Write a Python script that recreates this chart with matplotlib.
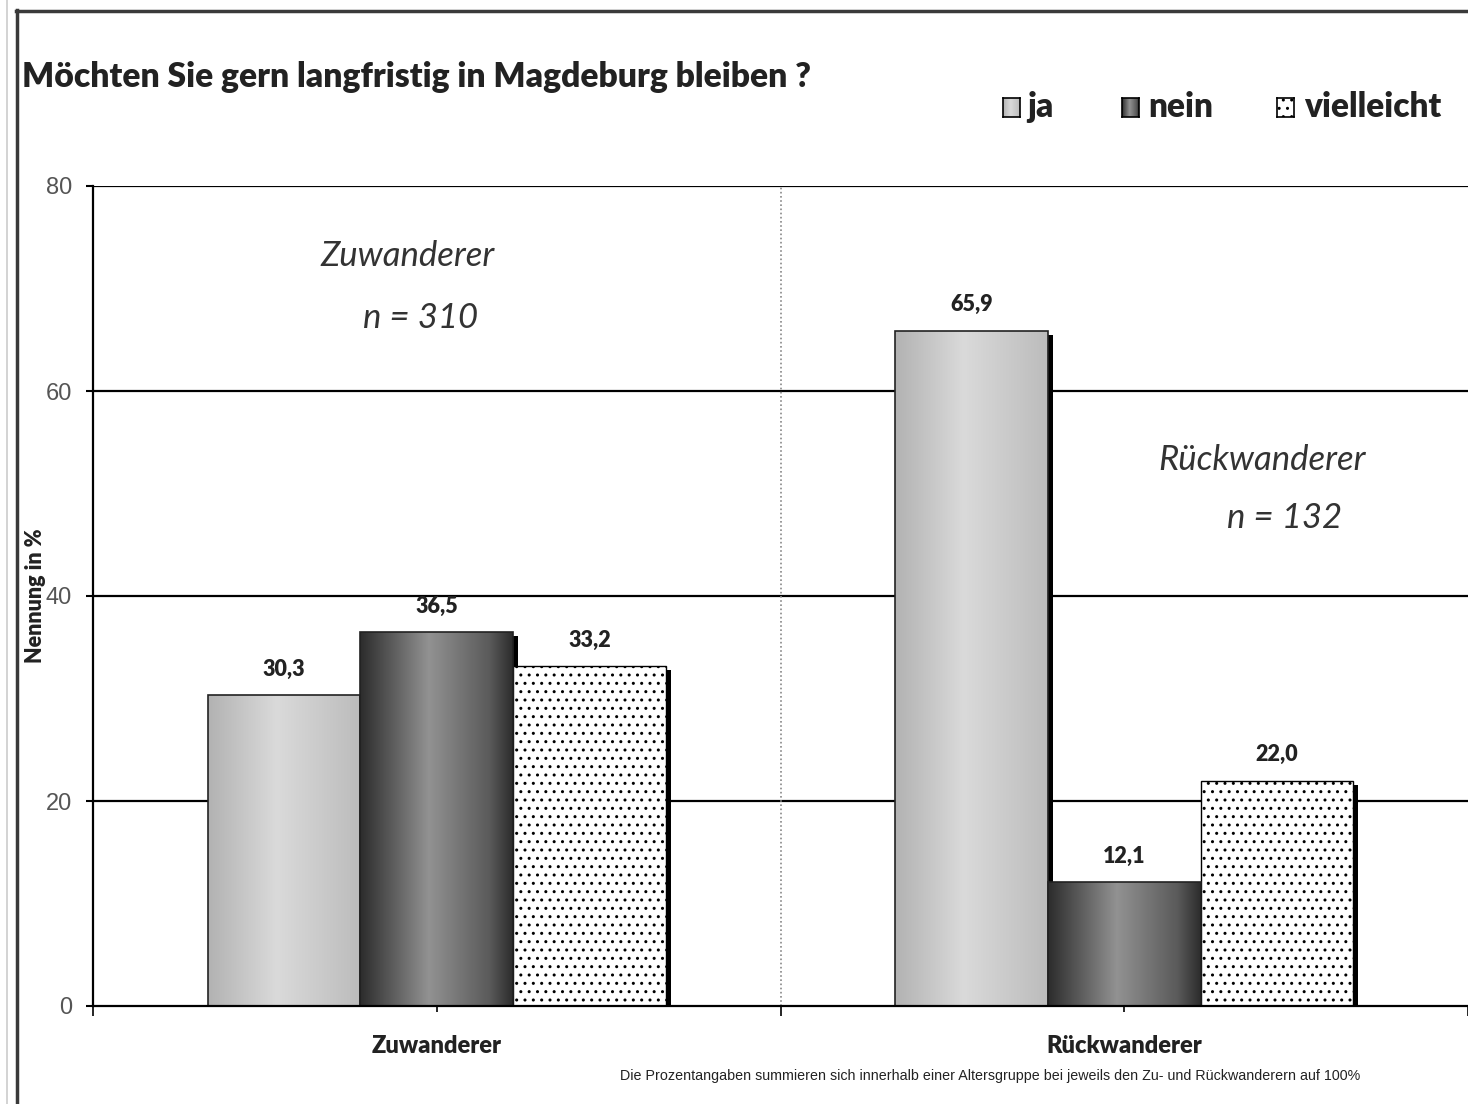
import numpy as np
import matplotlib
matplotlib.use("Agg")
import matplotlib.pyplot as plt
from matplotlib.colors import LinearSegmentedColormap
from matplotlib.patches import Rectangle
from matplotlib.lines import Line2D

# ---------------- data ----------------
title = "Möchten Sie gern langfristig in Magdeburg bleiben ?"
groups = ["Zuwanderer", "Rückwanderer"]
series_names = ["ja", "nein", "vielleicht"]
ja = [30.3, 65.9]
nein = [36.5, 12.1]
vielleicht = [33.2, 22.0]
y_ticks = [0, 20, 40, 60, 80]
group_notes = [("Zuwanderer", "n = 310"), ("Rückwanderer", "n = 132")]
ylabel = "Nennung in %"
footnote = ("Die Prozentangaben summieren sich innerhalb einer Altersgruppe "
            "bei jeweils den Zu- und Rückwanderern auf 100%")

plt.rcParams['hatch.linewidth'] = 1.0
plt.rcParams['hatch.color'] = 'black'

BOLD = ['Lato', 'DejaVu Sans']
NARROW = ['Liberation Sans Narrow', 'Liberation Sans', 'DejaVu Sans']

W, H = 1468, 1104
fig = plt.figure(figsize=(W / 100, H / 100), dpi=100)
fig.patch.set_facecolor('white')

def fx(px):
    return px / W

def fy(py):
    return 1 - py / H

ax = fig.add_axes([fx(93), fy(1006), 1 - fx(93), fy(186) - fy(1006)])
ax.set_xlim(0, 2)
ax.set_ylim(0, 80)

cmap_ja = LinearSegmentedColormap.from_list(
    "ja", [(0, "#b2b2b2"), (0.45, "#dadada"), (1, "#bcbcbc")])
cmap_nein = LinearSegmentedColormap.from_list(
    "nein", [(0, "#2c2c2c"), (0.45, "#929292"), (0.85, "#5a5a5a"), (1, "#2c2c2c")])

width = 1 / 4.5
centers = np.array([0.5, 1.5])
offsets = [-width, 0, width]
series = [ja, nein, vielleicht]

# shadows (offset by a few pixels right/down)
sx = 5 / 687
sy = 0.45
for k, vals in enumerate(series):
    ax.bar(centers + offsets[k] + sx, vals, width, bottom=-sy,
           color='black', linewidth=0, zorder=2)

gradient = np.linspace(0, 1, 256).reshape(1, -1)
containers = []
for k, vals in enumerate(series):
    if k == 2:
        bc = ax.bar(centers + offsets[k], vals, width, facecolor='white',
                    edgecolor='black', hatch='..', linewidth=1.0, zorder=3)
    else:
        bc = ax.bar(centers + offsets[k], vals, width, facecolor='none',
                    edgecolor='#222222', linewidth=1.2, zorder=4)
        cm = cmap_ja if k == 0 else cmap_nein
        for p in bc:
            x0, w0, h0 = p.get_x(), p.get_width(), p.get_height()
            im = ax.imshow(gradient, cmap=cm, aspect='auto',
                           extent=[x0, x0 + w0, 0, h0], zorder=3,
                           interpolation='bilinear')
            im.set_clip_path(p)
    containers.append(bc)
ax.set_xlim(0, 2)
ax.set_ylim(0, 80)

for bc, vals in zip(containers, series):
    ax.bar_label(bc, labels=[f"{v:.1f}".replace('.', ',') for v in vals],
                 padding=11, fontsize=15.5, fontweight='heavy', family=BOLD,
                 color='#222222', zorder=6)

# grid lines
for t in y_ticks[1:]:
    ax.axhline(t, color='black', lw=1.6, zorder=1)
ax.axvline(1, color='#888888', lw=1.2, ls=(0, (1, 1.5)), zorder=1)

for s in ['top', 'right']:
    ax.spines[s].set_visible(False)
ax.spines['left'].set_linewidth(1.6)
ax.spines['bottom'].set_linewidth(1.6)
ax.spines['left'].set_zorder(5)
ax.spines['bottom'].set_zorder(5)

ax.set_yticks(y_ticks)
ax.set_yticklabels([str(t) for t in y_ticks], family=NARROW, fontsize=17,
                   color='#555555')
ax.tick_params(axis='y', length=5, width=1.5, pad=10, direction='out')

ax.set_xticks(centers)
ax.set_xticklabels(groups, fontsize=17, fontweight='heavy', family=BOLD,
                   color='#222222')
ax.set_xticks([0, 1, 2], minor=True)
ax.tick_params(axis='x', which='major', length=4, width=1.2, pad=17)
ax.tick_params(axis='x', which='minor', length=7, width=1.2)

ax.set_ylabel(ylabel, fontsize=15.5, fontweight='heavy', family=BOLD,
              color='#222222')
ax.yaxis.set_label_coords(-0.034, 0.5)

# group notes (italic)
note_pos = [((0.457, 73.2), (0.476, 67.1)), ((1.700, 53.3), (1.733, 47.6))]
for (name, n), (p1, p2) in zip(group_notes, note_pos):
    ax.text(p1[0], p1[1], name, ha='center', va='center', fontsize=25,
            style='italic', fontweight='normal', family=['Lato', 'DejaVu Sans'],
            color='#333333')
    ax.text(p2[0], p2[1], n, ha='center', va='center', fontsize=25,
            style='italic', fontweight='normal', family=['Lato', 'DejaVu Sans'],
            color='#333333')

# title
fig.text(fx(22), fy(77), title, ha='left', va='center', fontsize=24.2,
         fontweight='heavy', family=BOLD, color='#222222')

# legend (manual)
leg_sq = [1003, 1122, 1277]
leg_tx = [1027, 1148, 1304]
for k, name in enumerate(series_names):
    lax = fig.add_axes([fx(leg_sq[k]), fy(117), fx(17), fy(98) - fy(117)])
    lax.set_xticks([]); lax.set_yticks([])
    for s in lax.spines.values():
        s.set_linewidth(1.2)
    if k < 2:
        lax.imshow(gradient, cmap=cmap_ja if k == 0 else cmap_nein,
                   aspect='auto', extent=[0, 1, 0, 1])
    else:
        lax.add_patch(Rectangle((0, 0), 1, 1, facecolor='white',
                                hatch='..', linewidth=0))
        lax.set_xlim(0, 1); lax.set_ylim(0, 1)
    fig.text(fx(leg_tx[k]), fy(107), name, ha='left', va='center',
             fontsize=24, fontweight='heavy', family=BOLD, color='#222222')

# footnote
fig.text(fx(620), fy(1076), footnote, ha='left', va='center', fontsize=10.3,
         family=NARROW, color='#222222')

# frame
fig.add_artist(Line2D([fx(17), fx(17)], [fy(10), 0], color='#3a3a3a', lw=2.5))
fig.add_artist(Line2D([fx(16), 1], [fy(11), fy(11)], color='#3a3a3a', lw=2.5))
fig.add_artist(Line2D([fx(7), fx(7)], [1, 0], color='#cccccc', lw=1.2))

fig.savefig("out.png", dpi=100, facecolor='white')
